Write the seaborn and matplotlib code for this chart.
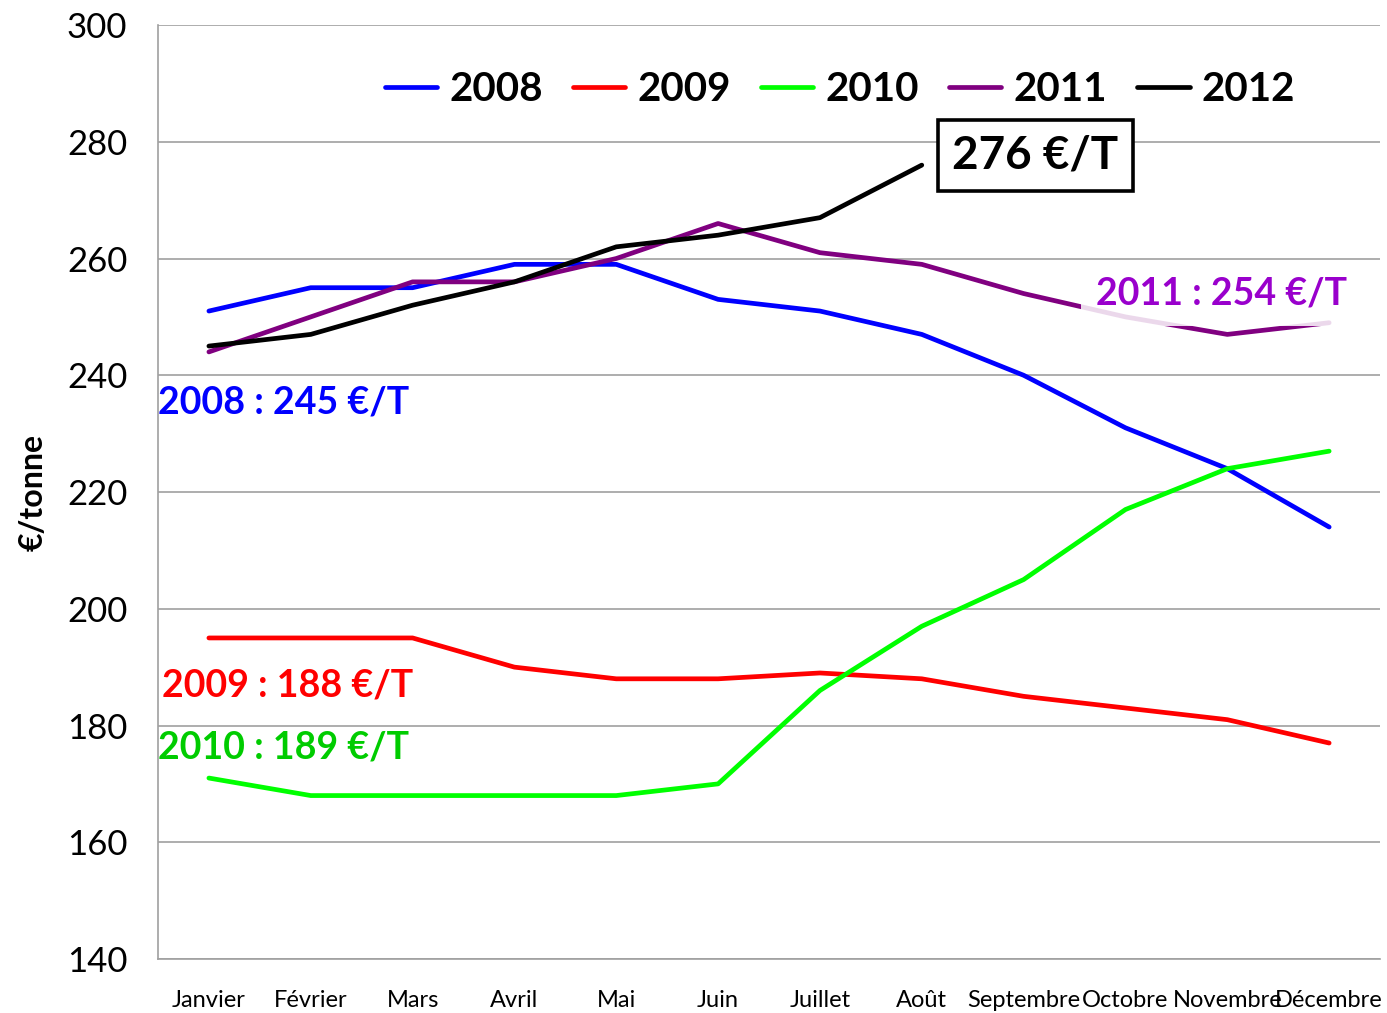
import numpy as np
import pandas as pd
import matplotlib
matplotlib.use("Agg")
import matplotlib.pyplot as plt
import seaborn as sns

months = ["Janvier", "Février", "Mars", "Avril", "Mai", "Juin", "Juillet",
          "Août", "Septembre", "Octobre", "Novembre", "Décembre"]
years = ["2008", "2009", "2010", "2011", "2012"]

prix_2008 = [251, 255, 255, 259, 259, 253, 251, 247, 240, 231, 224, 214]
prix_2009 = [195, 195, 195, 190, 188, 188, 189, 188, 185, 183, 181, 177]
prix_2010 = [171, 168, 168, 168, 168, 170, 186, 197, 205, 217, 224, 227]
prix_2011 = [244, 250, 256, 256, 260, 266, 261, 259, 254, 250, 247, 249]
prix_2012 = [245, 247, 252, 256, 262, 264, 267, 276, np.nan, np.nan, np.nan, np.nan]

moyennes = {"2008": "2008 : 245 €/T", "2009": "2009 : 188 €/T",
            "2010": "2010 : 189 €/T", "2011": "2011 : 254 €/T"}
dernier_2012 = "276 €/T"

line_colors = ["#0000ff", "#ff0000", "#00ff00", "#800080", "#000000"]

rows = []
for year, values in zip(years, [prix_2008, prix_2009, prix_2010, prix_2011, prix_2012]):
    for i, v in enumerate(values):
        rows.append({"mois": i, "annee": year, "prix": v})
df = pd.DataFrame(rows)

sns.set_style("white")
plt.rcParams["font.family"] = ["Lato", "DejaVu Sans"]
plt.rcParams["text.color"] = "black"
plt.rcParams["axes.labelcolor"] = "black"

fig = plt.figure(figsize=(13.87, 10.13), dpi=100)
ax = fig.add_axes([0.1139, 0.0533, 0.8811, 0.922])

sns.lineplot(data=df, x="mois", y="prix", hue="annee", palette=line_colors,
             linewidth=3.4, ax=ax, legend=True)

ax.set_xlim(-0.5, 11.5)
ax.set_ylim(140, 300)
ax.set_yticks(range(140, 301, 20))
ax.yaxis.grid(True, color="#a0a0a0", linewidth=1.2)
ax.set_axisbelow(True)
for s in ["top", "right"]:
    ax.spines[s].set_visible(False)
for s in ["left", "bottom"]:
    ax.spines[s].set_color("#a0a0a0")
    ax.spines[s].set_linewidth(1.2)

ax.set_xticks(range(12))
ax.set_xticklabels(months, fontsize=17)
ax.set_xticks(np.arange(-0.5, 12, 1), minor=True)
ax.tick_params(axis="x", which="major", length=0, pad=22, labelcolor="black")
ax.tick_params(axis="x", which="minor", length=8, color="#a0a0a0", width=1.2)
ax.tick_params(axis="y", length=10, color="#a0a0a0", width=1.2, labelsize=25, pad=12,
               labelcolor="black")
ax.set_xlabel("")
ax.set_ylabel("€/tonne", fontsize=23, fontweight=700, labelpad=14)

leg = ax.legend(loc="upper center", bbox_to_anchor=(0.558, 0.99), ncol=5, frameon=False,
                prop=dict(size=29, weight=700), handlelength=1.3, handletextpad=0.3,
                columnspacing=0.75)
for t in leg.get_texts():
    t.set_color("black")
for h in leg.get_lines():
    h.set_linewidth(3.4)

lab = dict(fontsize=27, fontweight=700, ha="left", va="center",
           transform=ax.get_yaxis_transform())
ax.text(0, 235.4, moyennes["2008"], color="#0000ff", **lab)
ax.text(0.003, 186.8, moyennes["2009"], color="#ff0000", **lab)
ax.text(0, 176.2, moyennes["2010"], color="#00cc00", **lab)
ax.text(0.973, 254.0, moyennes["2011"], color="#9900cc", fontsize=27, fontweight=700,
        ha="right", va="center", transform=ax.get_yaxis_transform(),
        bbox=dict(boxstyle="square,pad=0.4", facecolor="white", edgecolor="none", alpha=0.85))

ax.text(7.3, 277.6, dernier_2012, color="black", fontsize=33, fontweight=700,
        ha="left", va="center",
        bbox=dict(boxstyle="square,pad=0.32", facecolor="white", edgecolor="black", linewidth=2.6))

fig.savefig("out.png", dpi=100)
